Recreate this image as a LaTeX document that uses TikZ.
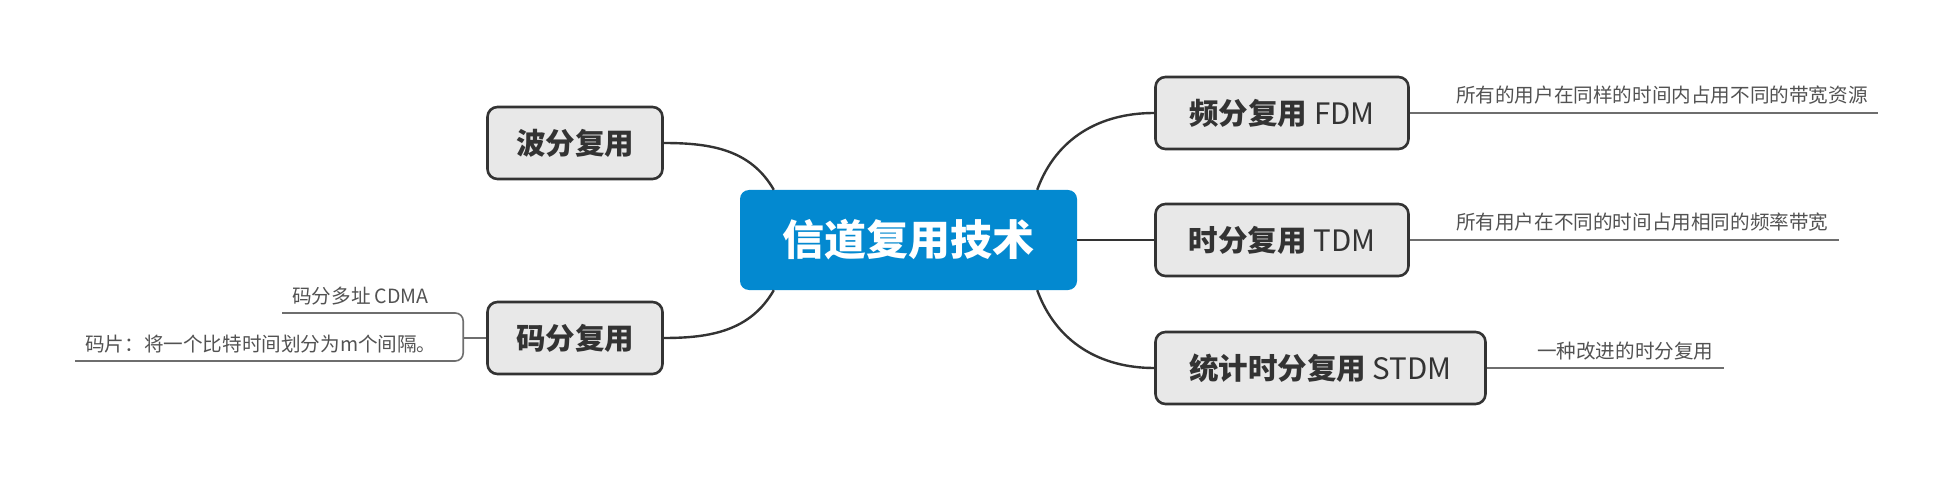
\documentclass[tikz,border=0pt]{standalone}
\usepackage{fontspec}
\setmainfont{Noto Sans CJK SC}
\usepackage{xcolor}
\usetikzlibrary{positioning}

\definecolor{rootblue}{RGB}{3,137,208}
\definecolor{topicgray}{RGB}{232,232,232}
\definecolor{inkdark}{RGB}{51,51,51}
\definecolor{leafgray}{RGB}{110,110,110}

\begin{document}
\begin{tikzpicture}[x=1pt, y=1pt,
      root/.style = {shape=rectangle, rounded corners=9pt, fill=rootblue,
        text=white, font=\fontsize{42}{50}\selectfont\bfseries,
        minimum width=337pt, minimum height=100pt},
      topic/.style = {shape=rectangle, rounded corners=10pt, draw=inkdark,
        line width=2.6pt, fill=topicgray, text=inkdark,
        font=\fontsize{29.5}{35}\selectfont, minimum height=72pt},
      note/.style = {anchor=south west, inner xsep=10pt, inner ysep=8pt,
        text=inkdark!85, font=\fontsize{19.6}{23}\selectfont},
      branch/.style = {draw=inkdark, line width=2.4pt},
      leaf/.style = {draw=leafgray, line width=1.6pt}]
  \useasboundingbox (0,0) rectangle (1951,480);
  \node[root] (root) at (908.5,240) {信道复用技术};
  % left side
  \node[topic, minimum width=175pt] (wdm) at (575,337) {\bfseries 波分复用};
  \node[topic, minimum width=175pt] (cdm) at (575,142) {\bfseries 码分复用};
  % right side
  \node[topic, minimum width=253pt] (fdm) at (1282,367) {{\bfseries 频分复用} FDM};
  \node[topic, minimum width=253pt] (tdm) at (1282,240) {{\bfseries 时分复用} TDM};
  \node[topic, minimum width=330pt] (stdm) at (1320.5,112) {{\bfseries 统计时分复用} STDM};
  \draw[branch] ([xshift=34pt]root.north west) to[out=120, in=0] (wdm.east);
  \draw[branch] ([xshift=34pt]root.south west) to[out=-120, in=0] (cdm.east);
  \draw[branch] ([xshift=-40pt]root.north east) to[out=70, in=180] (fdm.west);
  \draw[branch] (root.east) -- (tdm.west);
  \draw[branch] ([xshift=-40pt]root.south east) to[out=-70, in=180] (stdm.west);
  % notes
  \node[note] (fdmnote) at ([xshift=36pt]fdm.east) {所有的用户在同样的时间内占用不同的带宽资源};
  \node[note] (tdmnote) at ([xshift=36pt]tdm.east) {所有用户在不同的时间占用相同的频率带宽};
  \node[note] (stdmnote) at ([xshift=40pt]stdm.east) {一种改进的时分复用};
  \draw[leaf] (fdm.east) -- (fdmnote.south east);
  \draw[leaf] (tdm.east) -- (tdmnote.south east);
  \draw[leaf] (stdm.east) -- (stdmnote.south east);
  \coordinate (cdmfork) at ([xshift=-23pt]cdm.west);
  \node[note] (cdmanote) at (282,167) {码分多址 CDMA};
  \node[note] (chipnote) at (75,119) {码片：将一个比特时间划分为m个间隔。};
  \draw[leaf] (cdm.west) -- (cdmfork);
  \draw[leaf, rounded corners=8pt] (cdmanote.south west) -| (cdmfork)
    |- (chipnote.south west);
\end{tikzpicture}
\end{document}
